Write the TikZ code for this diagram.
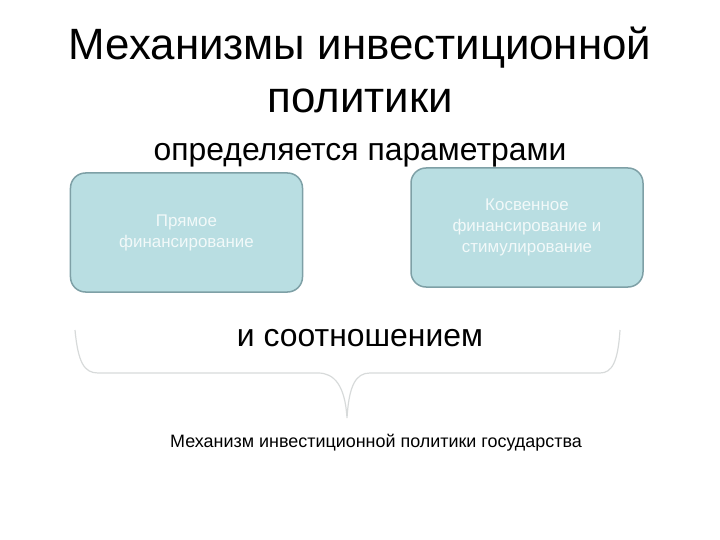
\documentclass[tikz,border=0pt]{standalone}
\usepackage{fontspec}
\setmainfont{Liberation Sans}
\definecolor{boxfill}{RGB}{185,222,226}
\definecolor{boxline}{RGB}{126,160,166}
\definecolor{boxtext}{RGB}{242,249,249}
\definecolor{braceline}{RGB}{215,218,218}

\begin{document}
\begin{tikzpicture}[x=1bp,y=-1bp,
  box/.style={draw=boxline,line width=1.5bp,fill=boxfill,rounded corners=15bp,
    minimum width=232bp,minimum height=119bp,align=center,text=boxtext,
    font=\fontsize{17}{21}\selectfont}]
\useasboundingbox (0,0)rectangle(720,540);
\node[align=center,font=\fontsize{44}{53}\selectfont] (title) at (360,70) {Механизмы инвестиционной\\политики};
\node[font=\fontsize{32}{38}\selectfont] (params) at (360,155) {определяется параметрами};
\node[box] (direct) at (186.5,232.5) {Прямое\\финансирование};
\node[box] (indirect) at (527,227.5) {Косвенное\\финансирование и\\стимулирование};
% фигурная скобка
\draw[braceline,line width=1.2bp] (75,330) .. controls (78,362) and (84,373) .. (98,373)
  --(318,373) .. controls (334,373) and (345,385) .. (347,418)
  .. controls (349,385) and (356,373) .. (370,373)
  --(600,373) .. controls (612,373) and (618,362) .. (620,330);
\node[font=\fontsize{32}{38}\selectfont] (ratio) at (360,338) {и соотношением};
\node[font=\fontsize{18}{22}\selectfont] (state) at (376,443) {Механизм инвестиционной политики государства};
\end{tikzpicture}
\end{document}
